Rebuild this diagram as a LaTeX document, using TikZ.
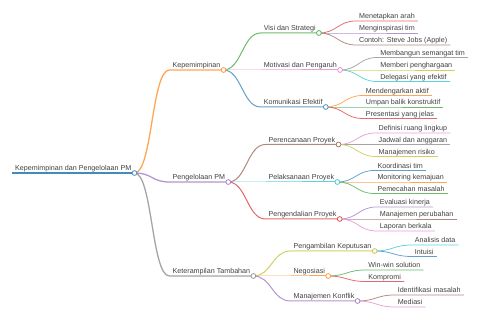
\documentclass[tikz,border=0pt]{standalone}
\usepackage{fontspec}
\setmainfont{Liberation Sans}
\usepackage{xcolor}
\definecolor{mmBlue}{HTML}{1F77B4}
\definecolor{mmOrange}{HTML}{FF7F0E}
\definecolor{mmGreen}{HTML}{2CA02C}
\definecolor{mmRed}{HTML}{D62728}
\definecolor{mmPurple}{HTML}{9467BD}
\definecolor{mmBrown}{HTML}{8C564B}
\definecolor{mmPink}{HTML}{E377C2}
\definecolor{mmGray}{HTML}{7F7F7F}
\definecolor{mmOlive}{HTML}{BCBD22}
\definecolor{mmCyan}{HTML}{17BECF}
\usepackage{tikz}

\begin{document}
\begin{tikzpicture}[
    x=1pt, y=-1pt,
    item/.style ={inner xsep=3pt, inner ysep=1.8pt, text depth=0pt,
                  anchor=south west, text=black!75,
                  font=\fontsize{7.15}{8.5}\selectfont},
    knob/.style ={fill=white, line width=0.8pt}
]
\useasboundingbox (0,0) rectangle (480,320);

\node[item] (root) at (12,173) {Kepemimpinan dan Pengelolaan PM};

% main branches
\node[item] (kp) at ([shift={(35,-103)}]root.south east) {Kepemimpinan};
\node[item] (pm) at ([shift={(35,9)}]root.south east)    {Pengelolaan PM};
\node[item] (kt) at ([shift={(35,103)}]root.south east)  {Keterampilan Tambahan};

% second level
\node[item] (vis) at ([shift={(37,-37)}]kp.south east)   {Visi dan Strategi};
\node[item] (mot) at ([shift={(37,0)}]kp.south east)     {Motivasi dan Pengaruh};
\node[item] (kom) at ([shift={(37,37)}]kp.south east)    {Komunikasi Efektif};
\node[item] (ren) at ([shift={(37,-37.5)}]pm.south east) {Perencanaan Proyek};
\node[item] (lak) at ([shift={(37,0)}]pm.south east)     {Pelaksanaan Proyek};
\node[item] (dal) at ([shift={(37,37)}]pm.south east)    {Pengendalian Proyek};
\node[item] (amb) at ([shift={(37,-25)}]kt.south east)   {Pengambilan Keputusan};
\node[item] (neg) at ([shift={(37,0)}]kt.south east)     {Negosiasi};
\node[item] (kon) at ([shift={(37,25)}]kt.south east)    {Manajemen Konflik};

% leaves
\node[item] (vis1) at ([shift={(37,-12)}]vis.south east)   {Menetapkan arah};
\node[item] (vis2) at ([shift={(37,0)}]vis.south east)     {Menginspirasi tim};
\node[item] (vis3) at ([shift={(37,12)}]vis.south east)    {Contoh: Steve Jobs (Apple)};
\node[item] (mot1) at ([shift={(37,-12.5)}]mot.south east) {Membangun semangat tim};
\node[item] (mot2) at ([shift={(37,0)}]mot.south east)     {Memberi penghargaan};
\node[item] (mot3) at ([shift={(37,11.5)}]mot.south east)  {Delegasi yang efektif};
\node[item] (kom1) at ([shift={(37,-11.5)}]kom.south east) {Mendengarkan aktif};
\node[item] (kom2) at ([shift={(37,0)}]kom.south east)     {Umpan balik konstruktif};
\node[item] (kom3) at ([shift={(37,11.5)}]kom.south east)  {Presentasi yang jelas};
\node[item] (ren1) at ([shift={(37,-11.5)}]ren.south east) {Definisi ruang lingkup};
\node[item] (ren2) at ([shift={(37,0)}]ren.south east)     {Jadwal dan anggaran};
\node[item] (ren3) at ([shift={(37,12)}]ren.south east)    {Manajemen risiko};
\node[item] (lak1) at ([shift={(37,-11.5)}]lak.south east) {Koordinasi tim};
\node[item] (lak2) at ([shift={(37,0)}]lak.south east)     {Monitoring kemajuan};
\node[item] (lak3) at ([shift={(37,11.5)}]lak.south east)  {Pemecahan masalah};
\node[item] (dal1) at ([shift={(37,-12)}]dal.south east)   {Evaluasi kinerja};
\node[item] (dal2) at ([shift={(37,0)}]dal.south east)     {Manajemen perubahan};
\node[item] (dal3) at ([shift={(37,12)}]dal.south east)    {Laporan berkala};
\node[item] (amb1) at ([shift={(37,-6)}]amb.south east)    {Analisis data};
\node[item] (amb2) at ([shift={(37,5.5)}]amb.south east)   {Intuisi};
\node[item] (neg1) at ([shift={(37,-6)}]neg.south east)    {Win-win solution};
\node[item] (neg2) at ([shift={(37,5.5)}]neg.south east)   {Kompromi};
\node[item] (kon1) at ([shift={(37,-6)}]kon.south east)    {Identifikasi masalah};
\node[item] (kon2) at ([shift={(37,6)}]kon.south east)     {Mediasi};

% branches: curve in, then underline
\draw[mmBlue!85, line width=1.8pt] (root.south west) -- (root.south east);
\foreach \a/\b/\col/\lw in {
    root/kp/mmOrange/1.3pt, root/pm/mmPurple/1.3pt, root/kt/mmGray/1.3pt,
    kp/vis/mmGreen/1pt, kp/mot/mmPink/1pt, kp/kom/mmBlue/1pt,
    pm/ren/mmBrown/1pt, pm/lak/mmCyan/1pt, pm/dal/mmRed/1pt,
    kt/amb/mmOlive/1pt, kt/neg/mmOrange/1pt, kt/kon/mmPurple/1pt,
    vis/vis1/mmRed/0.75pt, vis/vis2/mmPurple/0.75pt, vis/vis3/mmBrown/0.75pt,
    mot/mot1/mmGray/0.75pt, mot/mot2/mmOlive/0.75pt, mot/mot3/mmCyan/0.75pt,
    kom/kom1/mmOrange/0.75pt, kom/kom2/mmGreen/0.75pt, kom/kom3/mmRed/0.75pt,
    ren/ren1/mmPink/0.75pt, ren/ren2/mmGray/0.75pt, ren/ren3/mmOlive/0.75pt,
    lak/lak1/mmBlue/0.75pt, lak/lak2/mmOrange/0.75pt, lak/lak3/mmGreen/0.75pt,
    dal/dal1/mmPurple/0.75pt, dal/dal2/mmBrown/0.75pt, dal/dal3/mmPink/0.75pt,
    amb/amb1/mmCyan/0.75pt, amb/amb2/mmBlue/0.75pt,
    neg/neg1/mmGreen/0.75pt, neg/neg2/mmRed/0.75pt,
    kon/kon1/mmBrown/0.75pt, kon/kon2/mmPink/0.75pt}
  \draw[\col!70, line width=\lw] (\a.south east)
      .. controls +(18,0) and +(-18,0) .. (\b.south west) -- (\b.south east);

% open knobs on inner nodes
\foreach \n/\col in {root/mmBlue, kp/mmOrange, pm/mmPurple, kt/mmGray,
    vis/mmGreen, mot/mmPink, kom/mmBlue, ren/mmBrown, lak/mmCyan,
    dal/mmRed, amb/mmOlive, neg/mmOrange, kon/mmPurple}
  \draw[knob, draw=\col!80] (\n.south east) circle[radius=2.4pt];
\end{tikzpicture}
\end{document}
